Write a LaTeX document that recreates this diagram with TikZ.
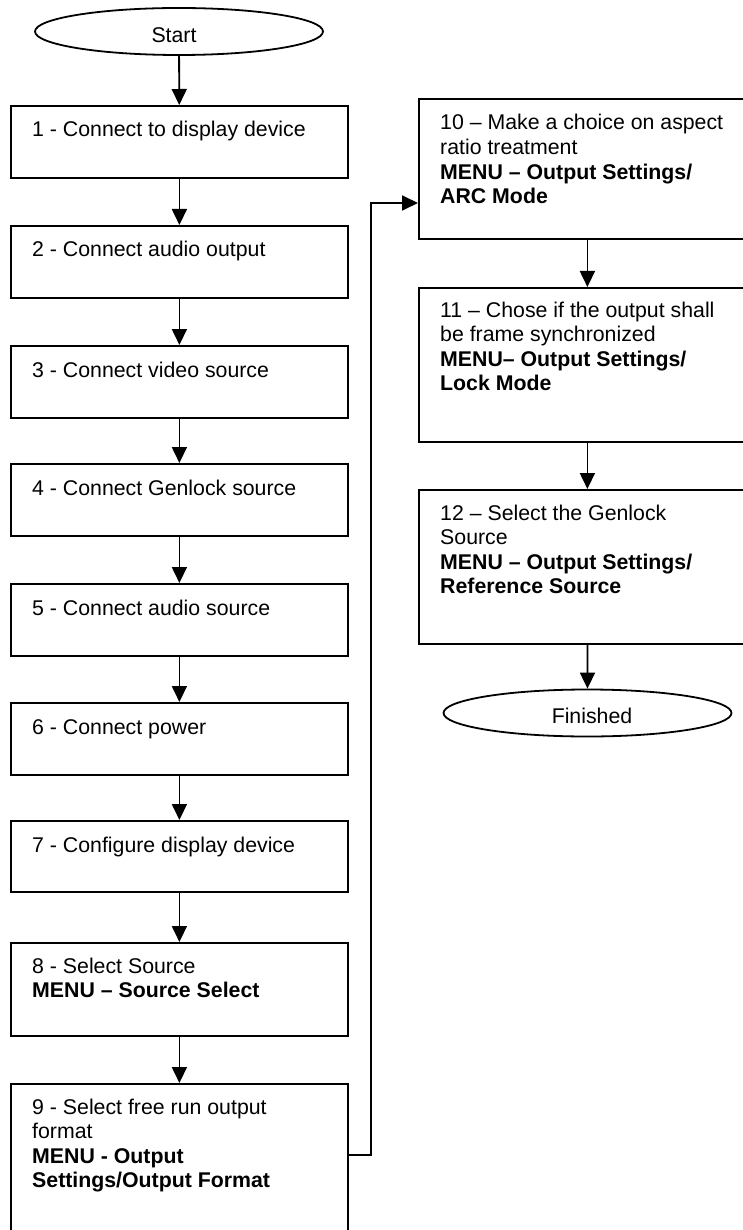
\documentclass[tikz,border=0pt]{standalone}
\usepackage{fontspec}
\setmainfont{Liberation Sans}
\usetikzlibrary{arrows.meta,shapes.geometric}
\tikzset{
  stepbox/.style={draw, line width=1.8pt, rectangle, anchor=north west, inner sep=0pt, minimum width=337pt},
  term/.style={draw, line width=1.8pt, ellipse, inner sep=0pt, minimum width=288pt, minimum height=47pt},
  lbl/.style={anchor=base west, inner sep=0pt, font=\fontsize{21.3}{24.6}\selectfont},
  arr/.style={-{Triangle[width=15pt,length=16pt]}, line width=1.8pt}
}
\newcommand{\bt}[1]{\parbox[t]{310pt}{\raggedright #1}}
\begin{document}
\begin{tikzpicture}[x=1pt,y=-1pt]
\useasboundingbox (0,0) rectangle (743,1230);
\clip (0,0) rectangle (743,1230);
% terminals
\node[term] (start) at (179,31.5) {};
\node[lbl, anchor=base] (starttxt) at (174,43) {Start};
\node[term] (fin) at (587.5,713) {};
\node[lbl, anchor=base] (fintxt) at (592,723) {Finished};
% left column
\node[stepbox, minimum height=72pt] (b1) at (10,105) {};
\node[stepbox, minimum height=72pt] (b2) at (10,225) {};
\node[stepbox, minimum height=72pt] (b3) at (10,345) {};
\node[stepbox, minimum height=72pt] (b4) at (10,463) {};
\node[stepbox, minimum height=72pt] (b5) at (10,583) {};
\node[stepbox, minimum height=72pt] (b6) at (10,702) {};
\node[stepbox, minimum height=71pt] (b7) at (10,820) {};
\node[stepbox, minimum height=93pt] (b8) at (10,942) {};
\node[stepbox, minimum height=175pt] (b9) at (10,1083) {};
% right column
\node[stepbox, minimum height=140pt] (b10) at (418,98) {};
\node[stepbox, minimum height=154pt] (b11) at (418,287) {};
\node[stepbox, minimum height=154pt] (b12) at (418,489) {};
% texts
\node[lbl] (t1) at ([shift={(22pt,-32pt)}]b1.north west) {1 - Connect to display device};
\node[lbl] (t2) at ([shift={(22pt,-32pt)}]b2.north west) {2 - Connect audio output};
\node[lbl] (t3) at ([shift={(22pt,-32pt)}]b3.north west) {3 - Connect video source};
\node[lbl] (t4) at ([shift={(22pt,-32pt)}]b4.north west) {4 - Connect Genlock source};
\node[lbl] (t5) at ([shift={(22pt,-32pt)}]b5.north west) {5 - Connect audio source};
\node[lbl] (t6) at ([shift={(22pt,-32pt)}]b6.north west) {6 - Connect power};
\node[lbl] (t7) at ([shift={(22pt,-32pt)}]b7.north west) {7 - Configure display device};
\node[lbl] (t8) at ([shift={(22pt,-31pt)}]b8.north west) {\bt{8 - Select Source\\\textbf{MENU – Source Select}}};
\node[lbl] (t9) at ([shift={(22pt,-31pt)}]b9.north west) {\bt{9 - Select free run output\\format\\\textbf{MENU - Output}\\\textbf{Settings/Output Format}}};
\node[lbl] (t10) at ([shift={(22pt,-32pt)}]b10.north west) {\bt{10 – Make a choice on aspect\\ratio treatment\\\textbf{MENU – Output Settings/}\\\textbf{ARC Mode}}};
\node[lbl] (t11) at ([shift={(22pt,-30pt)}]b11.north west) {\bt{11 – Chose if the output shall\\be frame synchronized\\\textbf{MENU– Output Settings/}\\\textbf{Lock Mode}}};
\node[lbl] (t12) at ([shift={(22pt,-31pt)}]b12.north west) {\bt{12 – Select the Genlock\\Source\\\textbf{MENU – Output Settings/}\\\textbf{Reference Source}}};
% connectors
\draw[arr] (start) -- (b1);
\draw[arr] (b1) -- (b2);
\draw[arr] (b2) -- (b3);
\draw[arr] (b3) -- (b4);
\draw[arr] (b4) -- (b5);
\draw[arr] (b5) -- (b6);
\draw[arr] (b6) -- (b7);
\draw[arr] (b7) -- (b8);
\draw[arr] (b8) -- (b9);
\coordinate (j1) at (371,1155);
\coordinate (j2) at (371,203);
\draw[arr] (j1 -| b9.east) -- (j1) -- (j2) -- (j2 -| b10.west);
\draw[arr] (b10) -- (b11);
\draw[arr] (b11) -- (b12);
\draw[arr] (b12) -- (fin);
\end{tikzpicture}
\end{document}
